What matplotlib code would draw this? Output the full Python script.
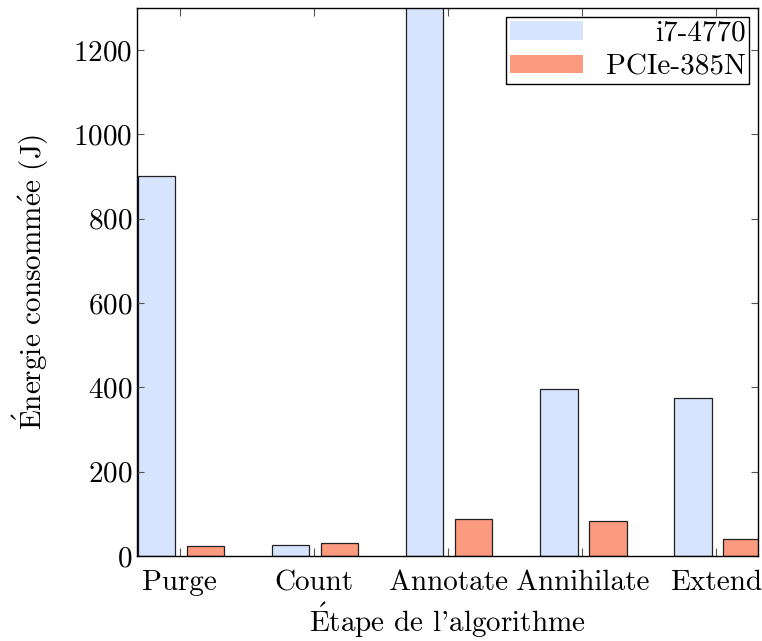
import matplotlib
matplotlib.use("Agg")
import matplotlib.pyplot as plt
import numpy as np

plt.rcParams['font.family'] = ['cmr10', 'DejaVu Serif']
plt.rcParams['mathtext.fontset'] = 'cm'
plt.rcParams['axes.formatter.use_mathtext'] = True

categories = ["Purge", "Count", "Annotate", "Annihilate", "Extend"]
i7_4770 = [902, 25, 1400, 396, 374]
pcie_385n = [24, 30, 88, 83, 40]
series_names = ["i7-4770", "PCIe-385N"]
yticks = [0, 200, 400, 600, 800, 1000, 1200]

fig = plt.figure(figsize=(7.62, 6.41), dpi=100)
ax = fig.add_axes([137/762, 1-556/641, (758-137)/762, (556-8)/641])

x = np.arange(len(categories))
w = 0.28
ax.bar(x - 0.175, i7_4770, w, color="#d6e4fd", edgecolor="#222222", linewidth=0.9, label=series_names[0])
ax.bar(x + 0.19, pcie_385n, w, color="#fc9a80", edgecolor="#222222", linewidth=0.9, label=series_names[1])

ax.set_xlim(-0.32, 4.31)
ax.set_ylim(0, 1300)
ax.set_xticks(x)
ax.set_xticklabels(categories)
ax.set_yticks(yticks)
ax.tick_params(axis='both', direction='in', top=True, right=True, labelsize=21, length=6, width=0.8, colors="#555555", labelcolor="black")
ax.tick_params(axis='y', length=5)
ax.tick_params(axis='x', pad=10)
for s in ax.spines.values():
    s.set_linewidth(1.0)

ax.set_xlabel(r"$\acute{\mathrm{E}}$tape de l'algorithme", fontsize=21, labelpad=3)
ax.set_ylabel(r"$\acute{\mathrm{E}}$nergie consomm$\acute{\mathrm{e}}$e (J)", fontsize=21, labelpad=16)

leg = ax.legend(loc="upper right", fontsize=21, frameon=True, fancybox=False,
                edgecolor="black", framealpha=1, markerfirst=True,
                handlelength=2.5, handleheight=0.6, borderaxespad=0.3,
                borderpad=0.12, labelspacing=0.25, handletextpad=0.8)
leg.get_frame().set_linewidth(1.0)
for h in leg.legend_handles:
    h.set_edgecolor('none')

# right-align legend texts, keep handles left-aligned
fig.canvas.draw()
r = fig.canvas.get_renderer()
widths = [t.get_window_extent(r).width for t in leg.get_texts()]
maxw = max(widths)
column = leg._legend_handle_box.get_children()[0]
for item, wpx in zip(column.get_children(), widths):
    item.sep += (maxw - wpx) * 72.0 / fig.dpi

fig.savefig("out.png", dpi=100)
